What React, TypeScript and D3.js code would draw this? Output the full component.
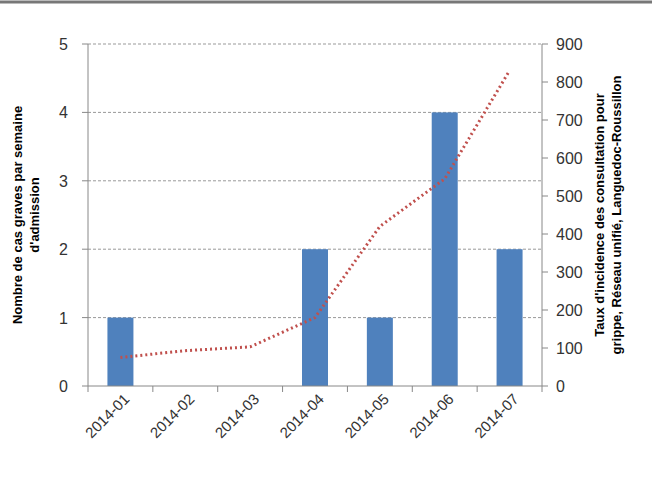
import React from 'react';
import * as d3 from 'd3';

const categories = ['2014-01', '2014-02', '2014-03', '2014-04', '2014-05', '2014-06', '2014-07'];
const severeCases = [1, 0, 0, 2, 1, 4, 2];
const incidence = [75, 93, 103, 180, 420, 545, 830];
const leftTicks = [0, 1, 2, 3, 4, 5];
const rightTicks = [0, 100, 200, 300, 400, 500, 600, 700, 800, 900];

const App: React.FC = () => {
  const left = 88, right = 542, top = 44, bottom = 386;
  const x = d3.scaleBand().domain(categories).range([left, right]);
  const yL = d3.scaleLinear().domain([0, 5]).range([bottom, top]);
  const yR = d3.scaleLinear().domain([0, 900]).range([bottom, top]);
  const line = d3.line<number>()
    .x((_, i) => x(categories[i])! + x.bandwidth() / 2)
    .y((d) => yR(d));
  const font = 'Liberation Sans, Arial, sans-serif';

  return (
    <svg width={652} height={479} style={{ position: 'absolute', left: 0, top: 0 }} fontFamily={font}>
      <rect width={652} height={479} fill="#fff" />
      <line x1={0} x2={652} y1={2} y2={2} stroke="#777" strokeWidth={3} />
      {leftTicks.map((t) => (
        <g key={t}>
          {t > 0 && <line x1={left} x2={right} y1={yL(t)} y2={yL(t)} stroke="#999" strokeDasharray="3,2" />}
          <line x1={left - 6} x2={left} y1={yL(t)} y2={yL(t)} stroke="#888" />
          <text x={68} y={yL(t) + 6} fontSize={16} textAnchor="end" fill="#333">{t}</text>
        </g>
      ))}
      {rightTicks.map((t) => (
        <g key={t}>
          <line x1={right} x2={right + 6} y1={yR(t)} y2={yR(t)} stroke="#888" />
          <text x={556} y={yR(t) + 6} fontSize={16} fill="#333">{t}</text>
        </g>
      ))}
      <line x1={left} x2={left} y1={top} y2={bottom} stroke="#888" />
      <line x1={right} x2={right} y1={top} y2={bottom} stroke="#888" />
      {categories.map((c, i) => (
        <g key={c}>
          {severeCases[i] > 0 && (
            <rect x={x(c)! + x.bandwidth() / 2 - 13} width={26} y={yL(severeCases[i])}
              height={bottom - yL(severeCases[i])} fill="#4f81bd" />
          )}
          <line x1={x(c)!} x2={x(c)!} y1={bottom} y2={bottom + 6} stroke="#888" />
          <text transform={`translate(${x(c)! + x.bandwidth() / 2 + 10},${bottom + 14}) rotate(-45)`}
            fontSize={15} textAnchor="end" fill="#333">{c}</text>
        </g>
      ))}
      <line x1={right} x2={right} y1={bottom} y2={bottom + 6} stroke="#888" />
      <line x1={left} x2={right} y1={bottom} y2={bottom} stroke="#888" />
      <path d={line(incidence)!} fill="none" stroke="#c0504d" strokeWidth={3} strokeDasharray="2,3" />
      <g transform="translate(26,215) rotate(-90)" fontSize={13} fontWeight="bold" textAnchor="middle">
        <text y={-4}>Nombre de cas graves par semaine</text>
        <text y={13}>d'admission</text>
      </g>
      <g transform="translate(604,215) rotate(-90)" fontSize={13} fontWeight="bold" textAnchor="middle">
        <text y={0}>Taux d'incidence des consultation pour</text>
        <text y={17}>grippe, Réseau unifié, Languedoc-Roussillon</text>
      </g>
    </svg>
  );
};

export default App;
